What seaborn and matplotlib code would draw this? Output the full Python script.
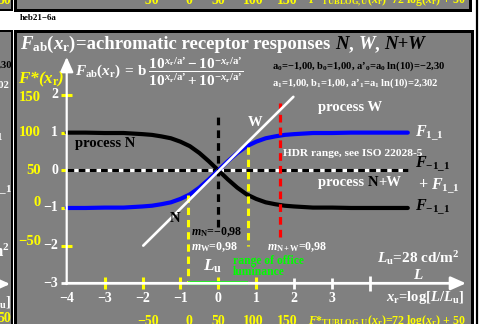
import numpy as np
import pandas as pd
import matplotlib
matplotlib.use('Agg')
import matplotlib.pyplot as plt
import seaborn as sns

# ---------------- data ----------------
x_curve = [-4, -3.5, -3, -2.5, -2, -1.75, -1.5, -1.25, -1, -0.75, -0.5, -0.25, 0,
           0.25, 0.5, 0.75, 1, 1.25, 1.5, 1.75, 2, 2.5, 3, 3.5, 4, 4.5, 5]
f_w = [-1.00, -1.00, -0.99, -0.99, -0.96, -0.94, -0.90, -0.85, -0.76, -0.64, -0.46, -0.24, 0.00,
       0.24, 0.46, 0.64, 0.76, 0.85, 0.90, 0.94, 0.96, 0.99, 0.99, 1.00, 1.00, 1.00, 1.00]
f_n = [1.00, 1.00, 0.99, 0.99, 0.96, 0.94, 0.90, 0.85, 0.76, 0.64, 0.46, 0.24, 0.00,
       -0.24, -0.46, -0.64, -0.76, -0.85, -0.90, -0.94, -0.96, -0.99, -0.99, -1.00, -1.00, -1.00, -1.00]
w_line_x = [-1.98, 1.98]
w_line_y = [-2.00, 1.95]
zero_x = [-4, 5]
center_y = [-1.5, 1.5]
hdr_x = 1.62
hdr_y = [-1.77, 1.78]
office_x = [-0.79, 0.79]
office_top = [-0.66, 0.63]
office_bottom = [-3.0, -2.0]
x_ticks = [-4, -3, -2, -1, 0, 1, 2, 3]
x_tick_labels = ['−4', '−3', '−2', '−1', '0', '1', '2', '3']
x_marks_yellow = [-3, -2, -1, 0, 1]
x_marks_white = [2, 3, 4]
y_ticks = [2, 1, 0, -1, -2, -3]
y_tick_labels = ['2', '1', '0', '−1', '−2', '−3']
y_marks_full = [2, -2]
y_marks_short = [1, 0, -1]
fstar_y_labels = ['150', '100', '50', '0', '−50']
fstar_y_pos = [1.94, 1.0, 0.0, -0.85, -1.88]
fstar_x_labels = ['−50', '0', '50', '100', '150']
fstar_x_pos = [-1.85, -0.77, 0.0, 0.92, 1.81]

# ---------------- style ----------------
sns.set_style('white')
plt.rcParams['font.family'] = ['Liberation Serif', 'DejaVu Serif']
plt.rcParams['font.weight'] = 'bold'
plt.rcParams['mathtext.fontset'] = 'custom'
plt.rcParams['mathtext.rm'] = 'Liberation Serif:bold'
plt.rcParams['mathtext.it'] = 'Liberation Serif:italic:bold'
plt.rcParams['mathtext.bf'] = 'Liberation Serif:bold'
plt.rcParams['mathtext.default'] = 'it'

GRAY = '#808080'
YEL = '#ffff00'
W, H = 483, 324
fig = plt.figure(figsize=(W / 100, H / 100), dpi=100, facecolor='white')


def rect(l, t, r, b):
    return [l / W, 1 - b / H, (r - l) / W, (b - t) / H]


def panel(l, t, r, b, lw=3.0):
    a = fig.add_axes(rect(l, t, r, b))
    a.set_facecolor(GRAY)
    a.set_xticks([]); a.set_yticks([])
    a.set_xlim(0, 1); a.set_ylim(0, 1)
    for s in a.spines.values():
        s.set_color('black'); s.set_linewidth(lw * 0.72)
    return a


# neighbouring panels (clipped)
corner = panel(-6, -6, 12, 9.5, 2)
top = panel(15, -6, 470, 9.5, 3)
left = panel(-6, 31, 12, 330, 2)
fig.add_artist(plt.Line2D([476.5 / W, 476.5 / W], [0, 1], color='black', lw=1.6))

# main panel
ax = fig.add_axes(rect(15, 31, 472, 330))
ax.set_facecolor(GRAY)
for k, s in ax.spines.items():
    s.set_color('black'); s.set_linewidth(3 * 0.72)
ax.spines['bottom'].set_visible(False)


def X(px):
    return (px - 218.3) / 37.9


def Y(py):
    return (170.3 - py) / 37.67


ax.set_xlim(X(15), X(472))
ax.set_ylim(Y(330), Y(31))
ax.set_xticks([]); ax.set_yticks([])

# axes with arrows
ax.annotate('', xy=(X(466), -3), xytext=(-4.02, -3),
            arrowprops=dict(arrowstyle='-|>,head_length=0.9,head_width=0.4', color='white',
                            lw=2.0, shrinkA=0, shrinkB=0, mutation_scale=10))
ax.annotate('', xy=(-4, Y(57)), xytext=(-4, -3.02),
            arrowprops=dict(arrowstyle='-|>,head_length=0.9,head_width=0.4', color='white',
                            lw=1.6, shrinkA=0, shrinkB=0, mutation_scale=10))

# tick marks
for xv in x_marks_yellow:
    ax.plot([xv, xv], [-3 - 0.16, -3 + 0.16], color=YEL, lw=2.2, solid_capstyle='butt')
for xv in x_marks_white:
    ln = 0.2 if xv == 4 else 0.14
    ax.plot([xv, xv], [-3 - ln, -3 + ln], color='white', lw=2.0, solid_capstyle='butt')
for yv in y_marks_full:
    ax.plot([-4.145, -3.855], [yv, yv], color=YEL, lw=2.2, solid_capstyle='butt')
for yv in y_marks_short:
    ax.plot([-4.15, -4.0], [yv, yv], color=YEL, lw=2.2, solid_capstyle='butt')
ax.plot([-4.15, -4.0], [-3, -3], color='white', lw=2.0, solid_capstyle='butt')

# zero line (white + black dashes)
ax.plot(zero_x, [0, 0], color='white', lw=2.3, solid_capstyle='butt')
ax.plot(zero_x, [0, 0], color='black', lw=2.3, dashes=(2.1, 1.4), dash_capstyle='butt')

# curves
df = pd.DataFrame({'x': x_curve, 'W': f_w, 'N': f_n})
sns.lineplot(data=df, x='x', y='N', ax=ax, color='black', lw=3.0, legend=False)
sns.lineplot(data=df, x='x', y='W', ax=ax, color='#0000ff', lw=3.0, legend=False)
ax.set_xlabel(''); ax.set_ylabel('')

# reference dashed lines
ax.plot([0, 0], center_y, color='black', lw=2.3, dashes=(2.4, 1.6), dash_capstyle='butt')
ax.plot([hdr_x, hdr_x], hdr_y, color='#ff0000', lw=2.3, dashes=(2.4, 1.6), dash_capstyle='butt')
for xv, t, b in zip(office_x, office_top, office_bottom):
    ax.plot([xv, xv], [t, b], color=YEL, lw=2.2, dashes=(2.4, 1.6), dash_capstyle='butt')
ax.plot(office_x, [-3, -3], color='#00ff00', lw=2.6, solid_capstyle='butt')

# white slope line
ax.plot(w_line_x, w_line_y, color='white', lw=1.9)


# ---------------- texts ----------------
def ftx(px, py, s, size, color='white', ha='left', va='center', style='normal'):
    return fig.text(px / W, 1 - py / H, s, fontsize=size, color=color, ha=ha, va=va,
                    fontstyle=style, fontweight='bold')


renderer = fig.canvas.get_renderer()


def seq(px, py, pieces, size, va='baseline'):
    x = px
    for s, color, style in pieces:
        t = ftx(x, py, s, size, color=color, va=va, style=style)
        bb = t.get_window_extent(renderer=renderer)
        x += bb.width


seq(20, 49, [(r'$F_{\mathrm{ab}}(x_{\mathrm{r}})$', 'white', 'normal'),
             ('=achromatic receptor responses ', 'white', 'normal'),
             ('N', 'black', 'italic'), (', ', 'white', 'normal'),
             ('W', 'white', 'italic'), (', ', 'white', 'normal'),
             ('N+W', 'black', 'italic')], 13.5)

frac = (r'$F_{\mathrm{ab}}(x_{\mathrm{r}})\,\mathrm{=\,b}\;'
        r'\dfrac{\mathrm{10}^{x_{\mathrm{r}}/\mathrm{a’}}-\mathrm{10}^{-x_{\mathrm{r}}/\mathrm{a’}}}'
        r'{\mathrm{10}^{x_{\mathrm{r}}/\mathrm{a’}}+\mathrm{10}^{-x_{\mathrm{r}}/\mathrm{a’}}}$')
ftx(75, 71.5, frac, 11)

ftx(18, 79, r'$F$*($x_{\mathrm{r}}$)', 12.3, color=YEL, style='italic')

ftx(272, 66, r'$\mathrm{a}_0$=−1,00, $\mathrm{b}_0$=1,00, $\mathrm{a’}_0$=$\mathrm{a}_0$ ln(10)=−2,30',
    7.6, color='black')
ftx(272, 83, r'$\mathrm{a}_1$=1,00, $\mathrm{b}_1$=1,00, $\mathrm{a’}_1$=$\mathrm{a}_1$ ln(10)=2,302',
    7.6, color='white')

ftx(318, 107, 'process W', 10.5)
ftx(248, 123, 'W', 10.5)
ftx(75, 143, 'process N', 10.5, color='black')
ftx(283, 154, 'HDR range, see ISO 22028-5', 8.2)
ftx(415, 133, r'$F_{\mathrm{1\_1}}$', 11.5)
ftx(415, 164, r'$F_{\mathrm{-1\_1}}$', 11.5, color='black')
seq(318, 186, [('process ', 'white', 'normal'), ('N', 'black', 'normal'), ('+W', 'white', 'normal')], 10.5)
ftx(418, 186, r'+ $F_{\mathrm{1\_1}}$', 11.5)
ftx(415, 207, r'$F_{\mathrm{-1\_1}}$', 11.5, color='black')
ftx(175, 219, 'N', 10.5, color='black', ha='center')
ftx(191, 232, r'$m_{\mathrm{N}}$=−0,98', 8.6, color='black')
ftx(191, 247, r'$m_{\mathrm{W}}$=0,98', 8.6)
ftx(267, 247, r'$m_{\mathrm{N+W}}$=0,98', 8.6)
ftx(377, 258, r'$L_{\mathrm{u}}$=28 cd/m$^{\mathrm{2}}$', 11)
ftx(418, 275, r'$L$', 11, ha='center')
ftx(213, 266, r'$L_{\mathrm{u}}$', 12.5, ha='center')
ftx(233, 261, 'range of office', 8.4, color='#00ff00')
ftx(233, 272, 'luminance', 8.4, color='#00ff00')

# tick labels
for xv, lab in zip(x_ticks, x_tick_labels):
    ax.text(xv, Y(298), lab, fontsize=10, color='white', ha='center', va='center', fontweight='bold')
ftx(464, 298, r'$x_{\mathrm{r}}$=log[$L$/$L_{\mathrm{u}}$]', 10.5, ha='right')
for yv, lab in zip(y_ticks, y_tick_labels):
    ax.text(X(58), yv, lab, fontsize=10, color='white', ha='right', va='center', fontweight='bold')
for yv, lab in zip(fstar_y_pos, fstar_y_labels):
    ax.text(X(41), yv, lab, fontsize=10.5, color=YEL, ha='right', va='center', fontweight='bold')
for xv, lab in zip(fstar_x_pos, fstar_x_labels):
    ax.text(xv, Y(321.5), lab, fontsize=10, color=YEL, ha='center', va='center', fontweight='bold')
fstar_formula = r'$F$*$_{\mathrm{TUBLOG,U}}$($x_{\mathrm{r}}$)=72 log($x_{\mathrm{r}}$) + 50'
ftx(308, 321.5, fstar_formula, 8.6, color=YEL)

# top panel (bottom row of the chart above)
for xv, lab in zip(fstar_x_pos, fstar_x_labels):
    fig.text((218.3 + xv * 37.9) / W, 1 - 0.5 / H, lab, fontsize=10, color=YEL,
             ha='center', va='center', fontweight='bold')
ftx(308, 0.5, fstar_formula, 8.6, color=YEL)


# left panel (right edge of neighbouring chart)
def ltx(py, s, color='white', size=10, xr=11.5):
    t = fig.text(xr / W, 1 - py / H, s, fontsize=size, color=color, ha='right', va='center',
                 fontweight='bold')
    t.set_clip_on(True)
    t.set_clip_box(left.bbox)
    return t


ltx(65, '2,30', color='black', size=7.6)
ltx(85, '2,302', size=7.6, xr=9)
ltx(135, r'$F_{\mathrm{1\_1}}$', size=11.5, xr=4)
ltx(187, r'$F_{\mathrm{-1\_1}}$', size=11.5, xr=12)
ltx(252, r'm$^{\mathrm{2}}$', size=11.5, xr=10)
ltx(302, r'$L_{\mathrm{u}}$]', size=10.5, xr=11)
ltx(319, '50', color=YEL, size=10, xr=11)
left.annotate('', xy=(0.9, 1 - (284 - 31) / 299), xytext=(0.0, 1 - (284 - 31) / 299),
              xycoords='axes fraction',
              arrowprops=dict(arrowstyle='-|>,head_length=0.9,head_width=0.4', color='white',
                              lw=2.0, shrinkA=0, shrinkB=0, mutation_scale=10))
tc = fig.text(11 / W, 1 - 0.5 / H, '50', fontsize=10, color=YEL, ha='right', va='center', fontweight='bold')
tc.set_clip_on(True)
tc.set_clip_box(corner.bbox)

ftx(20, 17.5, 'heb21−6a', 6.5, color='black')

fig.savefig('out.png', dpi=100, facecolor='white')
